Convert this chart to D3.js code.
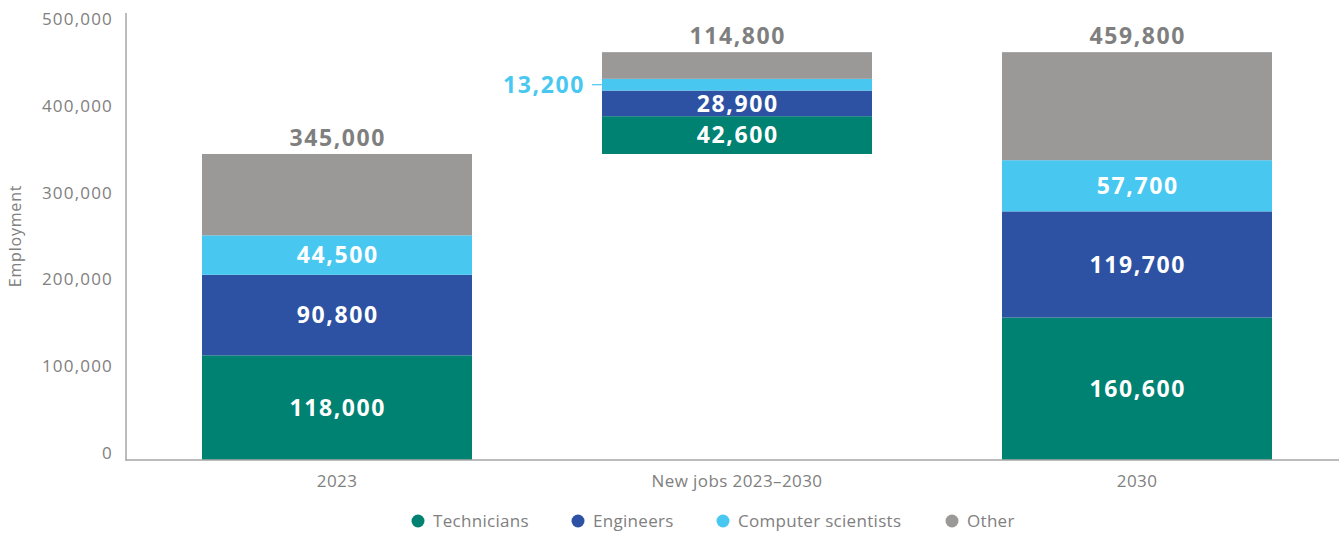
<!DOCTYPE html>
<html>
<head>
<meta charset="utf-8">
<script src="https://cdn.jsdelivr.net/npm/d3@7"></script>
<style>
  html, body { margin: 0; padding: 0; background: #fff; }
  svg { display: block; }
  text { font-family: "Open Sans", "DejaVu Sans", sans-serif; }
</style>
</head>
<body>
<svg id="chart" width="1340" height="533"></svg>
<script>
// Employment by occupation group
const categories = ["2023", "New jobs 2023–2030", "2030"];
const seriesNames = ["Technicians", "Engineers", "Computer scientists", "Other"];
const technicians = [118000, 42600, 160600];
const engineers = [90800, 28900, 119700];
const computerScientists = [44500, 13200, 57700];
const other = [91700, 30100, 121800];
const totals = [345000, 114800, 459800];
// the middle column floats on top of the 2023 total
const baseOffsets = [0, 345000, 0];
const yTicks = [0, 100000, 200000, 300000, 400000, 500000];
const colors = ["#008272", "#2d52a3", "#48c8f0", "#9b9997"];

const svg = d3.select("#chart");
const axisX = 126, axisBottom = 460;
const fmt = d3.format(",");

const x = d3.scaleBand().domain(categories).range([137, 1337])
  .paddingInner(0.325).paddingOuter(0.1625);
const y = d3.scaleLinear().domain([0, 500000]).range([axisBottom, 16.5]);
// tick labels sit on their own evenly spaced scale
const yLabel = d3.scaleLinear().domain([0, 500000]).range([453, 19]);

const seriesValues = [technicians, engineers, computerScientists, other];
const rows = categories.map((c, i) => {
  const r = { cat: c, base: baseOffsets[i] };
  seriesNames.forEach((s, k) => r[s] = seriesValues[k][i]);
  return r;
});
const stacked = d3.stack().keys(seriesNames)(rows);

const valueFont = { size: 23, spacing: 1.6 };

// bars
const g = svg.append("g");
stacked.forEach((layer, k) => {
  g.selectAll(null).data(layer).enter().append("rect")
    .attr("x", d => x(d.data.cat))
    .attr("width", x.bandwidth())
    .attr("y", d => y(d[1] + d.data.base))
    .attr("height", d => y(d[0] + d.data.base) - y(d[1] + d.data.base))
    .attr("fill", colors[k]);
});

function valueText(sel) {
  return sel.attr("font-size", valueFont.size).attr("font-weight", 700)
    .attr("letter-spacing", valueFont.spacing);
}

// segment value labels (white, inside)
stacked.forEach((layer, k) => {
  if (k === 3) return;
  layer.forEach((d, i) => {
    const v = seriesValues[k][i];
    const cx = x(d.data.cat) + x.bandwidth() / 2;
    const cy = (y(d[0] + d.data.base) + y(d[1] + d.data.base)) / 2;
    if (i === 1 && k === 2) {
      // thin slice: label outside with a leader line
      const left = x(d.data.cat);
      g.append("line").attr("x1", left - 10).attr("x2", left)
        .attr("y1", cy).attr("y2", cy)
        .attr("stroke", colors[2]).attr("stroke-width", 1.2);
      valueText(g.append("text")).attr("x", left - 17).attr("y", cy)
        .attr("dy", "0.36em").attr("text-anchor", "end")
        .attr("fill", colors[2]).text(fmt(v));
      return;
    }
    valueText(g.append("text")).attr("x", cx + valueFont.spacing / 2).attr("y", cy)
      .attr("dy", "0.36em").attr("text-anchor", "middle")
      .attr("fill", "#fff").text(fmt(v));
  });
});

// totals above bars
categories.forEach((c, i) => {
  valueText(g.append("text"))
    .attr("x", x(c) + x.bandwidth() / 2 + valueFont.spacing / 2)
    .attr("y", y(baseOffsets[i] + totals[i]) - 8)
    .attr("text-anchor", "middle")
    .attr("fill", "#7f7f7f").text(fmt(totals[i]));
});

// axes lines
svg.append("line").attr("x1", axisX).attr("x2", axisX)
  .attr("y1", 13).attr("y2", axisBottom + 1)
  .attr("stroke", "#a6a6a6").attr("stroke-width", 1.5);
svg.append("line").attr("x1", axisX).attr("x2", 1339)
  .attr("y1", axisBottom).attr("y2", axisBottom)
  .attr("stroke", "#a6a6a6").attr("stroke-width", 1.5);

// y tick labels
const yAxis = d3.axisLeft(yLabel).tickValues(yTicks)
  .tickFormat(fmt).tickSize(0).tickPadding(0);
const ya = svg.append("g").attr("transform", `translate(${axisX - 13},0)`).call(yAxis);
ya.select(".domain").remove();
ya.selectAll("text").attr("font-size", 17).attr("fill", "#808080")
  .attr("letter-spacing", 1.2)
  .attr("font-family", "'Open Sans', sans-serif");

// x tick labels
const xAxis = d3.axisBottom(x).tickSize(0).tickPadding(0);
const xa = svg.append("g").attr("transform", `translate(0,${axisBottom + 15})`).call(xAxis);
xa.select(".domain").remove();
xa.selectAll("text").attr("font-size", 17).attr("fill", "#808080")
  .attr("letter-spacing", 0.4)
  .attr("font-family", "Roboto, sans-serif");

// y axis title
svg.append("text")
  .attr("transform", "translate(21,236) rotate(-90)")
  .attr("text-anchor", "middle")
  .attr("font-size", 16).attr("fill", "#808080")
  .attr("letter-spacing", 0.8)
  .text("Employment");

// legend
const legendX = [418, 578, 723, 952];
const lg = svg.append("g");
seriesNames.forEach((s, k) => {
  lg.append("circle").attr("cx", legendX[k]).attr("cy", 521).attr("r", 6.5)
    .attr("fill", colors[k]);
  lg.append("text").attr("x", legendX[k] + 15).attr("y", 521).attr("dy", "0.35em")
    .attr("font-size", 17).attr("fill", "#808080")
    .attr("letter-spacing", 0.3)
    .attr("font-family", "Roboto, sans-serif").text(s);
});
</script>
</body>
</html>
